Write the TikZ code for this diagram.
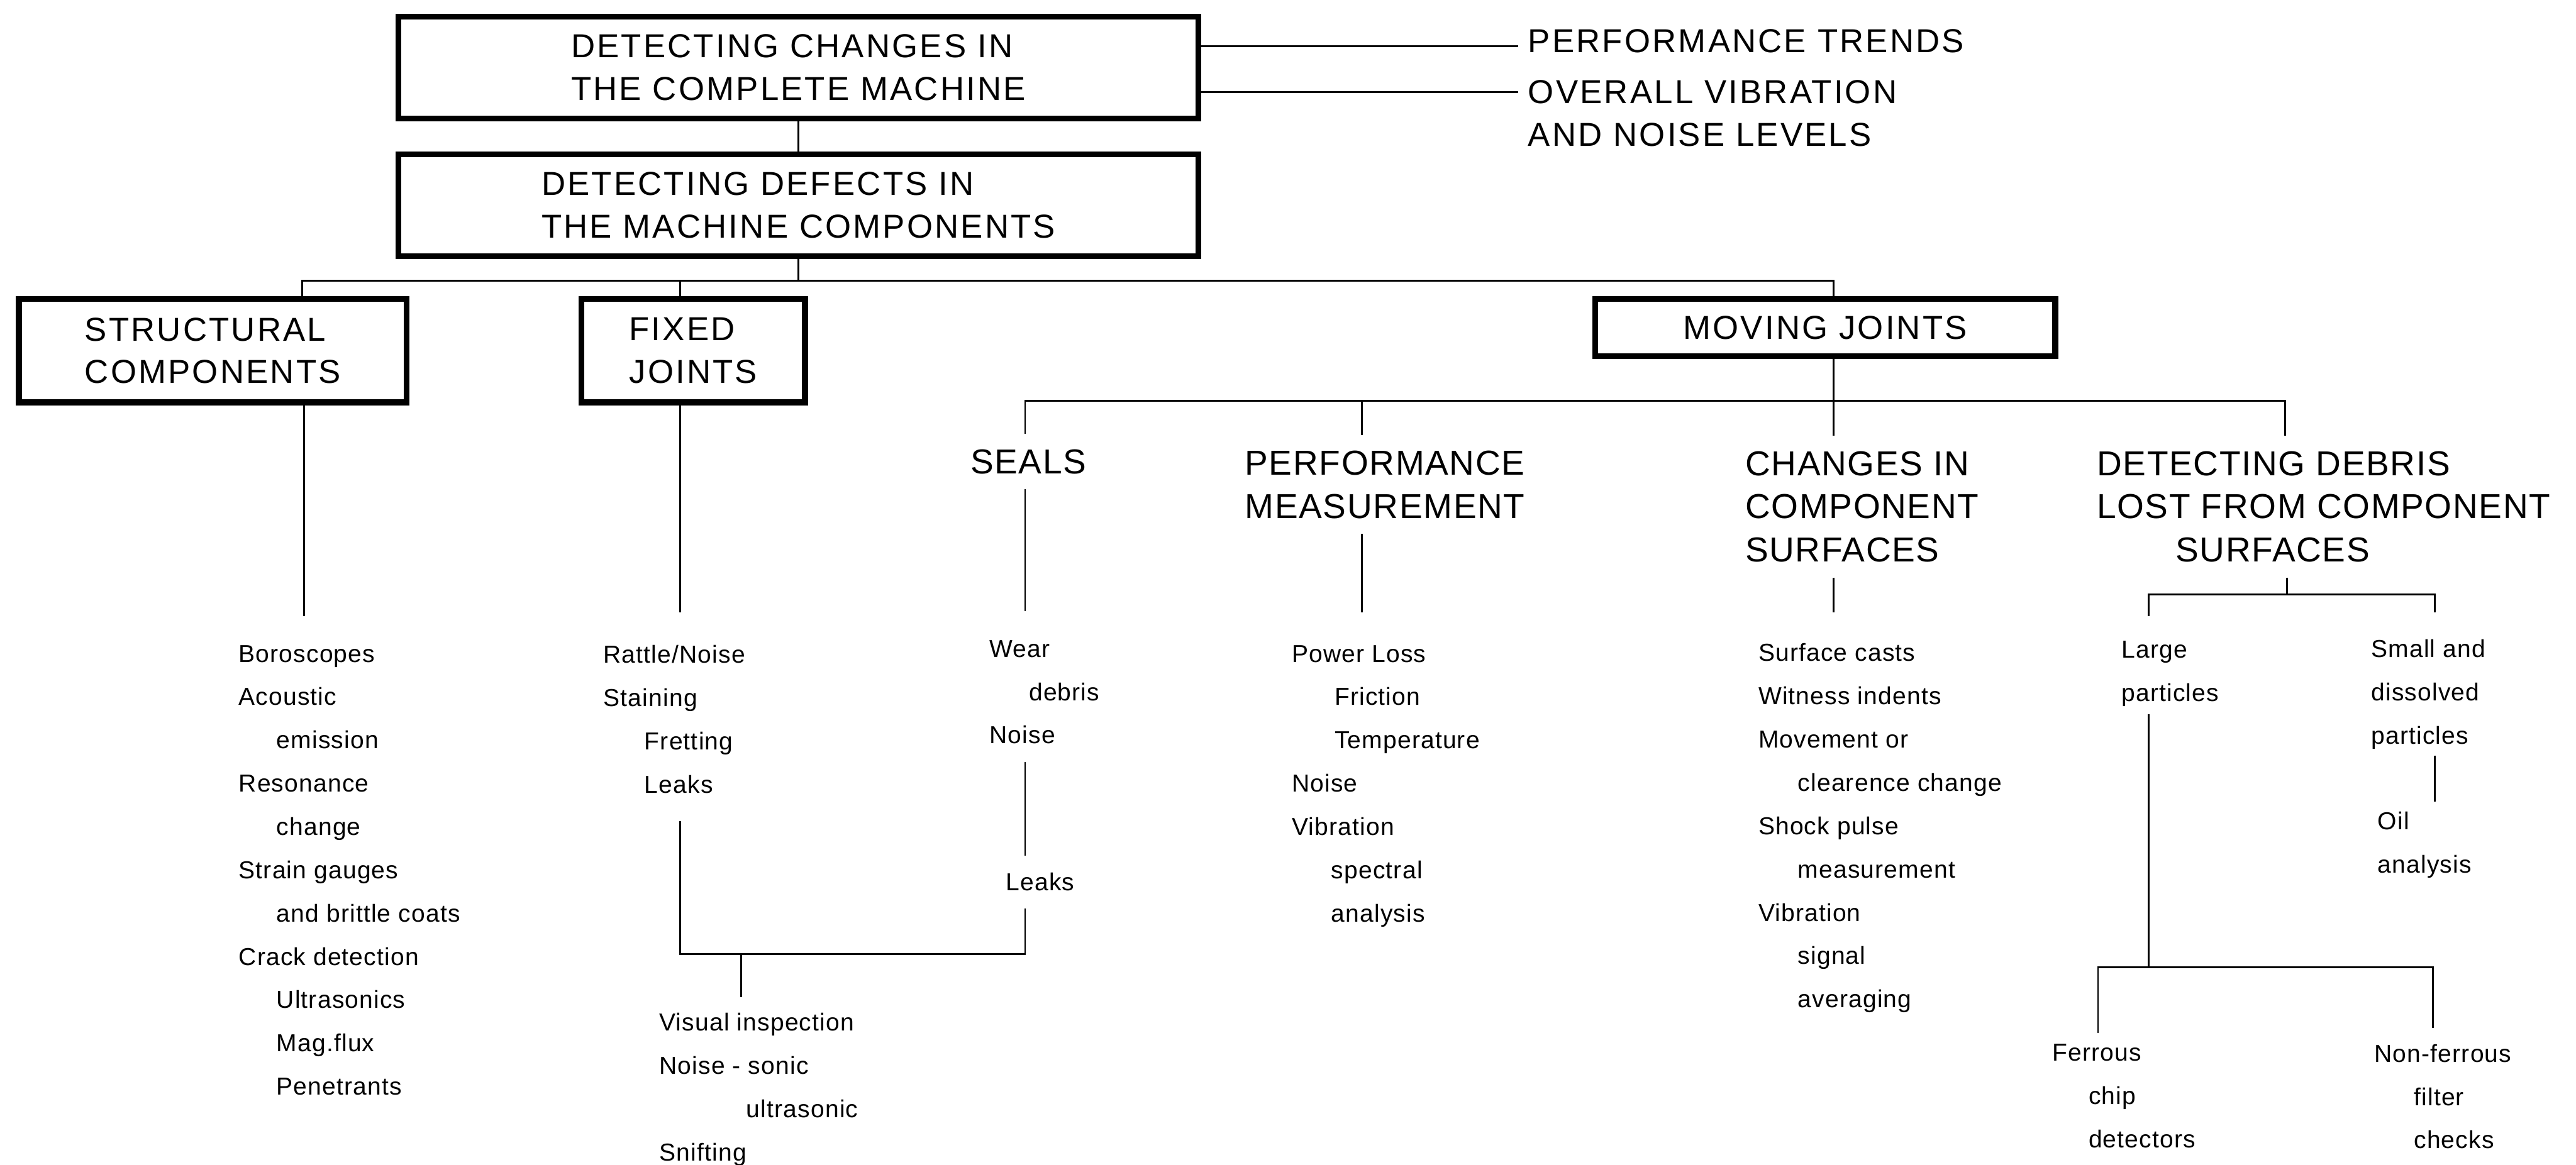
\documentclass[tikz,border=0pt]{standalone}
\usepackage{fontspec}
\setmainfont{Liberation Sans}
\newfontfamily\boxfont{Liberation Sans}[LetterSpace=6]
\newfontfamily\hdrfont{Liberation Sans}[LetterSpace=3]
\newfontfamily\lstfont{Liberation Sans}[LetterSpace=3]
\usetikzlibrary{positioning,calc}
\newcommand{\indt}{\hspace*{4.6mm}}

\begin{document}
\begin{tikzpicture}[x=0.2mm,y=-0.2mm,
  box/.style={draw,line width=2pt,align=left,inner sep=0pt,font=\boxfont\fontsize{11.5}{14.7}\selectfont},
  side/.style={anchor=west,align=left,font=\boxfont\fontsize{11.5}{14.7}\selectfont},
  hdr/.style={align=left,outer sep=2pt,font=\hdrfont\fontsize{12}{15}\selectfont},
  itm/.style={anchor=north west,align=left,inner sep=0pt,font=\lstfont\fontsize{8.5}{15}\selectfont},
  ln/.style={line width=0.6pt}]
\useasboundingbox (0,0) rectangle (1568,709);
% ---- whole machine ----
\node[box,minimum width=97.4mm,minimum height=12.4mm] (mach) at (486,41) {DETECTING CHANGES IN\\THE COMPLETE MACHINE};
\node[box,minimum width=97.4mm,minimum height=12.4mm] (comp) at (486,125) {DETECTING DEFECTS IN\\THE MACHINE COMPONENTS};
\node[side] (trd) at (924,25) {PERFORMANCE TRENDS};
\node[side] (vib) at (924,69) {OVERALL VIBRATION\\AND NOISE LEVELS};
\coordinate (trdin) at (924,28);
\coordinate (vibin) at (924,56);
\draw[ln] (mach.east |- trdin) -- (trdin);
\draw[ln] (mach.east |- vibin) -- (vibin);
\draw[ln] (mach) -- (comp);
% ---- component groups ----
\node[box,minimum width=47.2mm,minimum height=12.6mm] (sbox) at (129.5,213.5) {STRUCTURAL\\COMPONENTS};
\node[box,minimum width=27.2mm,minimum height=12.6mm] (fbox) at (422,213.5) {FIXED\\JOINTS};
\node[box,minimum width=56mm,minimum height=7mm] (mbox) at (1111,199.5) {MOVING JOINTS};
\coordinate (b1c) at (486,171);
\coordinate (b1s) at (184,171);
\coordinate (b1f) at (414,171);
\coordinate (b1m) at (1116,171);
\draw[ln] (comp) -- (b1c);
\draw[ln] (sbox.north -| b1s) -- (b1s) -- (b1m) -- (mbox.north -| b1m);
\draw[ln] (b1f) -- (fbox.north -| b1f);
% ---- moving joint headings ----
\node[hdr,align=center] (sealh) at (626,281) {SEALS};
\node[hdr,align=center] (perfh) at (843,295) {PERFORMANCE\\MEASUREMENT};
\node[hdr,anchor=west] (chgh) at (1053,308.5) {CHANGES IN\\COMPONENT\\SURFACES};
\node[hdr,anchor=west] (debh) at (1267,308.5) {DETECTING DEBRIS\\LOST FROM COMPONENT\\\hspace*{9.6mm}SURFACES};
\coordinate (b2s) at (624,244);
\coordinate (b2p) at (829,244);
\coordinate (b2c) at (1116,244);
\coordinate (b2d) at (1391,244);
\draw[ln] (mbox.south -| b2c) -- (b2c);
\draw[ln] (sealh.north -| b2s) -- (b2s) -- (b2d) -- (debh.north -| b2d);
\draw[ln] (b2p) -- (perfh.north -| b2p);
\draw[ln] (b2c) -- (chgh.north -| b2c);
% ---- structural ----
\coordinate (send) at (185,375);
\draw[ln] (send |- sbox.south) -- (send);
\node[itm] (slist) at (145,392.5) {Boroscopes\\Acoustic\\\indt emission\\Resonance\\\indt change\\Strain gauges\\\indt and brittle coats\\Crack detection\\\indt Ultrasonics\\\indt Mag.flux\\\indt Penetrants};
% ---- fixed joints and seals ----
\coordinate (fend) at (414,373);
\draw[ln] (fend |- fbox.south) -- (fend);
\node[itm] (flist) at (367,392.5) {Rattle/Noise\\Staining\\\hspace*{5mm}Fretting\\\hspace*{5mm}Leaks};
\coordinate (seend) at (624,372);
\draw[ln] (sealh.south -| seend) -- (seend);
\node[itm] (wlist) at (602,389.5) {Wear\\\hspace*{4.8mm}debris\\Noise};
\coordinate (sea) at (624,464);
\coordinate (seb) at (624,521);
\draw[ln] (sea) -- (seb);
\node[anchor=west,inner sep=0pt,font=\lstfont\fontsize{8.5}{15}\selectfont] (lk) at (612,537) {Leaks};
\coordinate (fb) at (414,500);
\coordinate (sc) at (624,553);
\coordinate (jn) at (451,581);
\coordinate (jend) at (451,607);
\draw[ln] (fb) -- (fb |- jn) -- (sc |- jn) -- (sc);
\draw[ln] (jn) -- (jend);
\node[itm] (vlist) at (401,616.5) {Visual inspection\\Noise - sonic\\\hspace*{10.6mm}ultrasonic\\Snifting};
% ---- performance ----
\coordinate (pend) at (829,373);
\draw[ln] (perfh.south -| pend) -- (pend);
\node[itm] (plist) at (786,392.5) {Power Loss\\\hspace*{5.2mm}Friction\\\hspace*{5.2mm}Temperature\\Noise\\Vibration\\\hspace*{4.8mm}spectral\\\hspace*{4.8mm}analysis};
% ---- surfaces ----
\coordinate (cend) at (1116,373);
\draw[ln] (chgh.south -| cend) -- (cend);
\node[itm] (clist) at (1070,391.5) {Surface casts\\Witness indents\\Movement or\\\hspace*{4.8mm}clearence change\\Shock pulse\\\hspace*{4.8mm}measurement\\Vibration\\\hspace*{4.8mm}signal\\\hspace*{4.8mm}averaging};
% ---- debris ----
\coordinate (dj) at (1392,362);
\coordinate (dl) at (1308,375);
\coordinate (dr) at (1482,373);
\draw[ln] (debh.south -| dj) -- (dj);
\draw[ln] (dl) -- (dl |- dj) -- (dr |- dj) -- (dr);
\node[itm] (lp) at (1291,390) {Large\\particles};
\node[itm] (sp) at (1443,389) {Small and\\dissolved\\particles};
\coordinate (spa) at (1482,460);
\coordinate (spb) at (1482,488);
\draw[ln] (spa) -- (spb);
\node[itm] (oa) at (1447,494) {Oil\\analysis};
\coordinate (lpa) at (1308,435);
\coordinate (lpj) at (1308,589);
\coordinate (fl) at (1277,629);
\coordinate (fr) at (1481,626);
\draw[ln] (lpa) -- (lpj);
\draw[ln] (fl) -- (fl |- lpj) -- (fr |- lpj) -- (fr);
\node[itm] (fc) at (1249,635.5) {Ferrous\\\hspace*{4.4mm}chip\\\hspace*{4.4mm}detectors};
\node[itm] (nf) at (1445,635.5) {Non-ferrous\\\hspace*{4.8mm}filter\\\hspace*{4.8mm}checks};
\end{tikzpicture}
\end{document}
